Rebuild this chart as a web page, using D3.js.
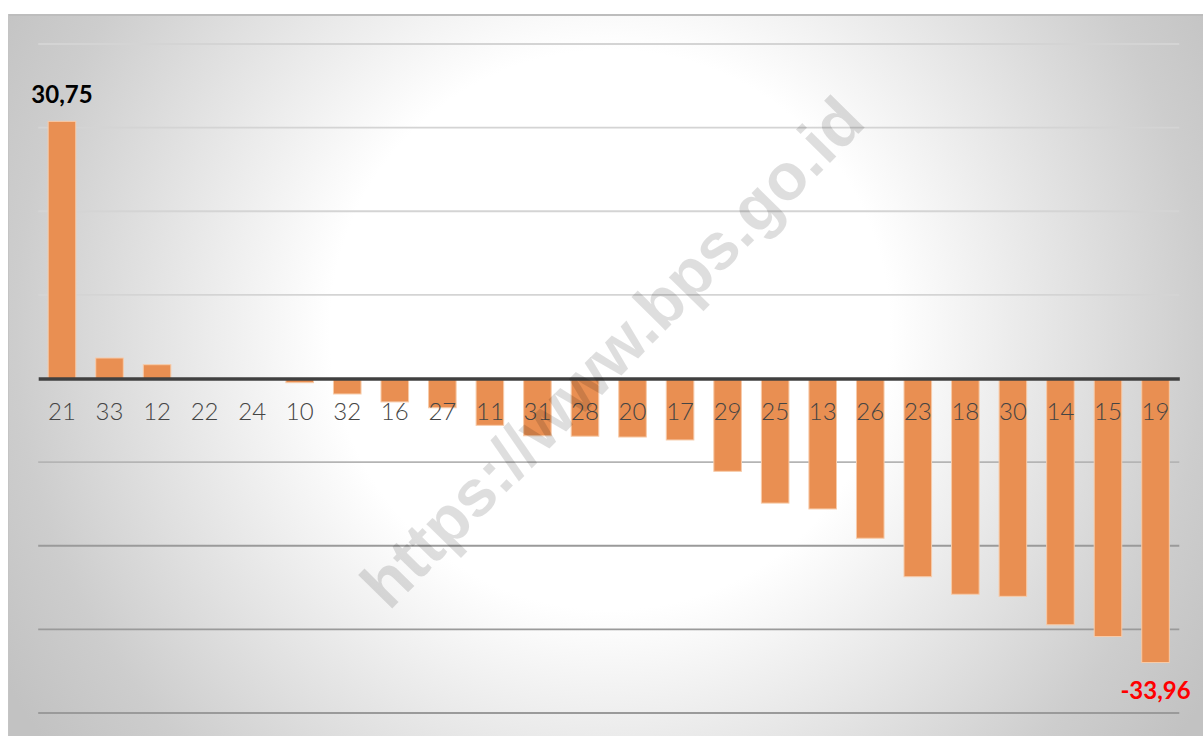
<!DOCTYPE html>
<html>
<head>
<meta charset="utf-8">
<script src="https://cdn.jsdelivr.net/npm/d3@7"></script>
<style>
  html, body { margin: 0; padding: 0; background: #ffffff; }
  svg { display: block; }
</style>
</head>
<body>
<svg id="chart" width="1203" height="736"></svg>
<script>
// Province codes, sorted by change (%)
const categories = ["21","33","12","22","24","10","32","16","27","11","31","28",
                    "20","17","29","25","13","26","23","18","30","14","15","19"];
const values = [30.75, 2.45, 1.65, 0, 0, -0.5, -1.85, -2.8, -3.5, -5.6, -6.85, -6.9,
                -7.0, -7.35, -11.1, -14.9, -15.6, -19.1, -23.7, -25.8, -26.05, -29.45, -30.85, -33.96];
const gridTicks = [40, 30, 20, 10, -10, -20, -30, -40];
// Bars that carry a value label, with their label colour
const labelled = [{cat: "21", color: "#000000", pos: "above"},
                  {cat: "19", color: "#ff0000", pos: "below"}];
const watermark = "https://www.bps.go.id";

const svg = d3.select("#chart");
const W = 1203, H = 736;

const locale = d3.formatLocale({decimal: ",", thousands: ".", grouping: [3], currency: ["", ""], minus: "-"});
const fmt = locale.format(".2f");

const x = d3.scaleBand()
  .domain(categories)
  .range([38.2, 1179.3])
  .paddingInner(0.42)
  .paddingOuter(0.21);

const y = d3.scaleLinear().domain([-40, 40]).range([713, 44]);

// Panel background: soft radial light
const defs = svg.append("defs");
const rg = defs.append("radialGradient")
  .attr("id", "panelGlow")
  .attr("gradientUnits", "userSpaceOnUse")
  .attr("cx", 610).attr("cy", 330).attr("r", 700);
rg.append("stop").attr("offset", 0).attr("stop-color", "#ffffff");
rg.append("stop").attr("offset", 0.4).attr("stop-color", "#ffffff");
rg.append("stop").attr("offset", 0.85).attr("stop-color", "#cdcdcd");
rg.append("stop").attr("offset", 1).attr("stop-color", "#c2c2c2");

svg.append("rect")
  .attr("x", 8).attr("y", 14)
  .attr("width", W - 8).attr("height", H - 14)
  .attr("fill", "url(#panelGlow)");
svg.append("line")
  .attr("x1", 8).attr("x2", W).attr("y1", 15).attr("y2", 15)
  .attr("stroke", "#bdbdbd").attr("stroke-width", 2);
svg.append("line")
  .attr("x1", 8.5).attr("x2", 8.5).attr("y1", 14).attr("y2", H)
  .attr("stroke", "#c4c4c4").attr("stroke-width", 1);

// Horizontal gridlines
const gridColor = v => v > 0 ? "#d4d4d4" : (v === -10 ? "#b4b4b4" : "#9a9a9a");
svg.append("g").attr("class", "grid")
  .selectAll("line")
  .data(gridTicks)
  .join("line")
  .attr("x1", x.range()[0]).attr("x2", x.range()[1])
  .attr("y1", d => y(d)).attr("y2", d => y(d))
  .attr("stroke", d => gridColor(d))
  .attr("stroke-width", 1.8);

// Bars
svg.append("g").attr("class", "bars")
  .selectAll("rect")
  .data(categories.map((c, i) => ({cat: c, v: values[i]})))
  .join("rect")
  .attr("x", d => x(d.cat))
  .attr("width", x.bandwidth())
  .attr("y", d => y(Math.max(0, d.v)))
  .attr("height", d => Math.abs(y(d.v) - y(0)))
  .attr("fill", "#e98f52")
  .attr("stroke", "#f7cba9")
  .attr("stroke-width", 1);

// Zero axis with category labels
const axis = svg.append("g")
  .attr("transform", `translate(0,${y(0)})`)
  .call(d3.axisBottom(x).tickSize(0).tickSizeOuter(0));
axis.select(".domain").attr("stroke", "#404040").attr("stroke-width", 3.4);
axis.selectAll(".tick text")
  .attr("y", 41).attr("dy", 0)
  .attr("fill", "#444444")
  .style("font-family", "Lato, 'Open Sans', sans-serif")
  .style("font-size", "24px")
  .style("font-weight", 300);

// Value labels on the extreme bars
svg.append("g").attr("class", "value-labels")
  .selectAll("text")
  .data(labelled)
  .join("text")
  .attr("x", d => x(d.cat) + x.bandwidth() / 2)
  .attr("y", d => {
    const v = values[categories.indexOf(d.cat)];
    return d.pos === "above" ? y(v) - 18 : y(v) + 37;
  })
  .attr("text-anchor", "middle")
  .attr("fill", d => d.color)
  .style("font-family", "Lato, 'Open Sans', sans-serif")
  .style("font-size", "24px")
  .style("font-weight", 700)
  .text(d => fmt(values[categories.indexOf(d.cat)]));

// Source watermark
svg.append("text")
  .attr("transform", "translate(612,352) rotate(-45.5)")
  .attr("text-anchor", "middle")
  .attr("dominant-baseline", "central")
  .attr("fill", "#000000")
  .attr("fill-opacity", 0.13)
  .style("font-family", "'Liberation Sans', Arial, sans-serif")
  .style("font-size", "66px")
  .style("font-weight", 700)
  .text(watermark);
</script>
</body>
</html>
